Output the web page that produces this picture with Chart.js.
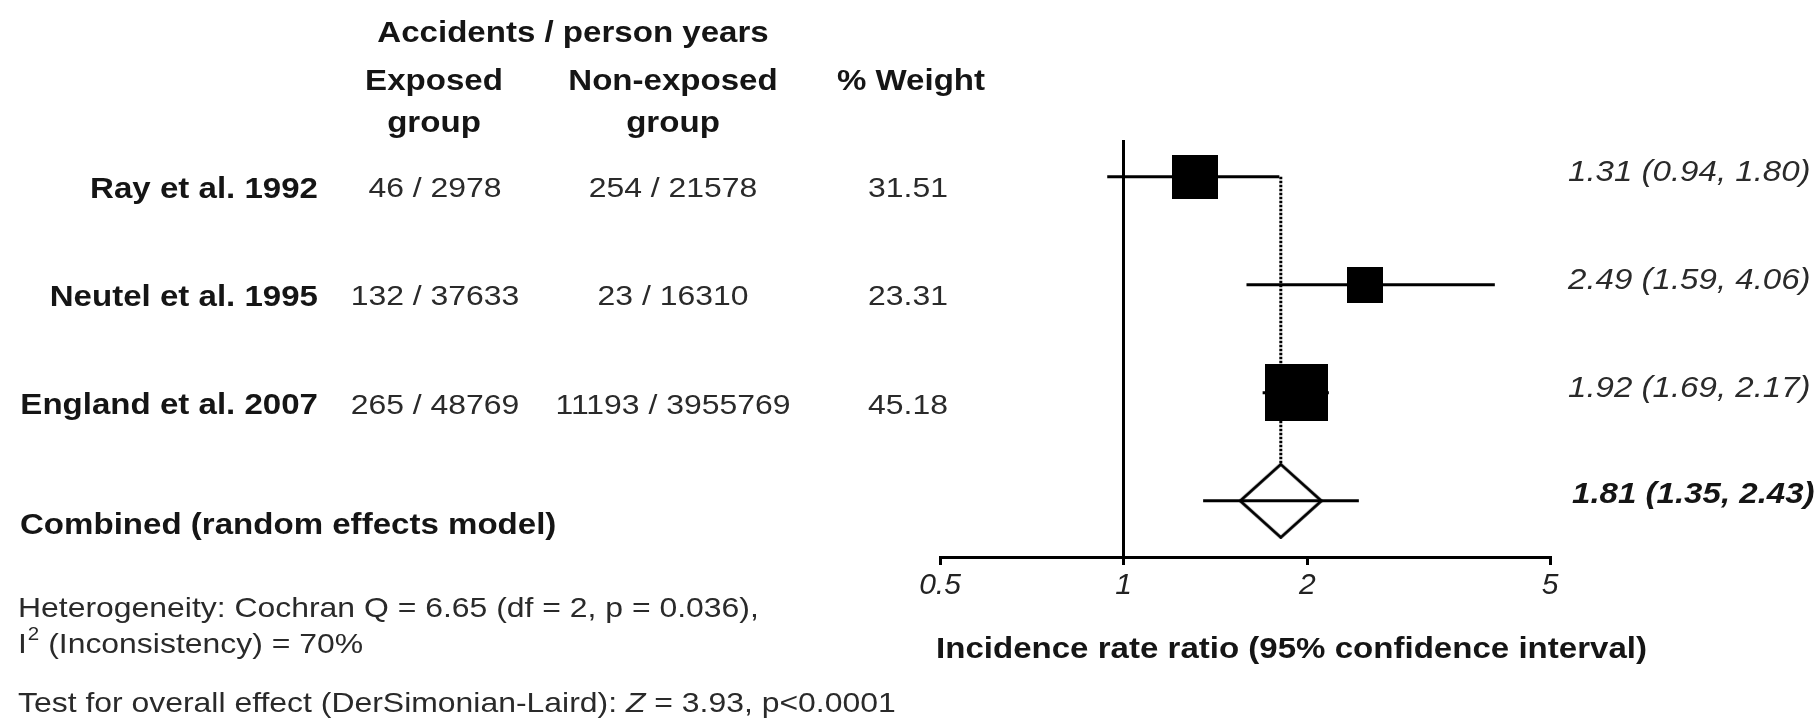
<!DOCTYPE html>
<html>
<head>
<meta charset="utf-8">
<title>Forest plot</title>
<script src="https://cdn.jsdelivr.net/npm/chart.js@4.4.1/dist/chart.umd.min.js"></script>
<style>
  html, body { margin: 0; padding: 0; background: #fff; }
  #wrap { width: 1818px; height: 722px; }
</style>
</head>
<body>
<div id="wrap"><canvas id="forest"></canvas></div>
<script>
// study rows (top to bottom)
const studies = ["Ray et al. 1992", "Neutel et al. 1995", "England et al. 2007"];
const exposed = ["46 / 2978", "132 / 37633", "265 / 48769"];
const nonExposed = ["254 / 21578", "23 / 16310", "11193 / 3955769"];
const weights = [31.51, 23.31, 45.18];
const irr = [1.31, 2.49, 1.92];
const ciLow = [0.94, 1.59, 1.69];
const ciHigh = [1.80, 4.06, 2.17];

// combined, random effects model
const pooled = 1.81;
const pooledLow = 1.35;
const pooledHigh = 2.43;

const xTicks = [0.5, 1, 2, 5];

const FONT = "'Liberation Sans', Arial, sans-serif";
// the source figure is a little stretched sideways, so text gets the same stretch
const SX = 1.14;
const pooledRow = studies.length;

function ciText(v, lo, hi) {
  return v.toFixed(2) + " (" + lo.toFixed(2) + ", " + hi.toFixed(2) + ")";
}

function put(ctx, s, x, y, font, align, color) {
  ctx.save();
  ctx.font = font;
  ctx.fillStyle = color || "#151515";
  ctx.textAlign = align || "left";
  ctx.textBaseline = "middle";
  ctx.translate(x, y);
  ctx.scale(SX, 1);
  ctx.fillText(s, 0, 0);
  ctx.restore();
}

function textWidth(ctx, s, font) {
  ctx.save();
  ctx.font = font;
  const w = ctx.measureText(s).width * SX;
  ctx.restore();
  return w;
}

// black box, size follows the study weight
function boxStyle(w) {
  const c = document.createElement("canvas");
  c.width = Math.round(7 + 1.24 * w);
  c.height = Math.round(13 + 0.97 * w);
  const g = c.getContext("2d");
  g.fillStyle = "#000";
  g.fillRect(0, 0, c.width, c.height);
  return c;
}

// open diamond for the combined estimate
function diamondStyle() {
  const c = document.createElement("canvas");
  c.width = 84;
  c.height = 76;
  const g = c.getContext("2d");
  g.beginPath();
  g.moveTo(42, 1.5);
  g.lineTo(82.5, 38);
  g.lineTo(42, 74.5);
  g.lineTo(1.5, 38);
  g.closePath();
  g.fillStyle = "#fff";
  g.fill();
  g.lineWidth = 3;
  g.strokeStyle = "#000";
  g.stroke();
  return c;
}

const datasets = [];

// study boxes on top
datasets.push({
  data: irr.map((v, i) => ({ x: v, y: i })),
  pointStyle: weights.map(boxStyle),
  pointRadius: 5,
  backgroundColor: "#000",
  borderColor: "#000",
  order: 1
});

// confidence interval whiskers
studies.forEach((s, i) => {
  datasets.push({
    data: [{ x: ciLow[i], y: i }, { x: ciHigh[i], y: i }],
    showLine: true,
    borderColor: "#000",
    borderWidth: 3,
    pointRadius: 0,
    order: 3
  });
});
datasets.push({
  data: [{ x: pooledLow, y: pooledRow }, { x: pooledHigh, y: pooledRow }],
  showLine: true,
  borderColor: "#000",
  borderWidth: 3,
  pointRadius: 0,
  order: 3
});

// diamond
datasets.push({
  data: [{ x: pooled, y: pooledRow }],
  pointStyle: diamondStyle(),
  pointRadius: 5,
  backgroundColor: "#fff",
  borderColor: "#000",
  order: 4
});

// dotted line at the combined estimate
datasets.push({
  data: [{ x: pooled, y: 0 }, { x: pooled, y: pooledRow }],
  showLine: true,
  borderColor: "#000",
  borderWidth: 3,
  borderDash: [2.5, 1.5],
  pointRadius: 0,
  order: 5
});

// the table on the left, the estimates on the right, notes underneath
const tablePlugin = {
  id: "forestTable",
  afterDraw(chart) {
    const ctx = chart.ctx;
    const yScale = chart.scales.y;
    const B = "bold 29px " + FONT;
    const R = "28px " + FONT;
    const I = "italic 29px " + FONT;
    const BI = "italic bold 29px " + FONT;
    const grey = "#2a2a2a";

    put(ctx, "Accidents / person years", 573, 34, B, "center");
    put(ctx, "Exposed", 434, 82, B, "center");
    put(ctx, "group", 434, 124, B, "center");
    put(ctx, "Non-exposed", 673, 82, B, "center");
    put(ctx, "group", 673, 124, B, "center");
    put(ctx, "% Weight", 911, 82, B, "center");

    studies.forEach((s, i) => {
      const py = yScale.getPixelForValue(i);
      put(ctx, s, 318, py + 13, B, "right");
      put(ctx, exposed[i], 435, py + 13, R, "center", grey);
      put(ctx, nonExposed[i], 673, py + 13, R, "center", grey);
      put(ctx, weights[i].toFixed(2), 908, py + 13, R, "center", grey);
      put(ctx, ciText(irr[i], ciLow[i], ciHigh[i]), 1568, py - 4, I, "left", grey);
    });

    const pp = yScale.getPixelForValue(pooledRow);
    put(ctx, "Combined (random effects model)", 20, pp + 25, B);
    put(ctx, ciText(pooled, pooledLow, pooledHigh), 1572, pp - 6, BI);

    // x axis title
    put(ctx, "Incidence rate ratio (95% confidence interval)", 936, 650, B);

    // notes
    put(ctx, "Heterogeneity: Cochran Q = 6.65 (df = 2, p = 0.036),", 18, 609, R, "left", grey);
    const small = "18px " + FONT;
    let x = 18;
    put(ctx, "I", x, 645, R, "left", grey);
    x += textWidth(ctx, "I", R) + 1;
    put(ctx, "2", x, 635, small, "left", grey);
    x += textWidth(ctx, "2", small);
    put(ctx, " (Inconsistency) = 70%", x, 645, R, "left", grey);

    x = 18;
    const t1 = "Test for overall effect (DerSimonian-Laird): ";
    put(ctx, t1, x, 704, R, "left", grey);
    x += textWidth(ctx, t1, R);
    put(ctx, "Z", x, 704, "italic 28px " + FONT, "left", grey);
    x += textWidth(ctx, "Z", "italic 28px " + FONT);
    put(ctx, " = 3.93, p<0.0001", x, 704, R, "left", grey);
  }
};

new Chart(document.getElementById("forest"), {
  type: "scatter",
  data: { datasets: datasets },
  options: {
    responsive: true,
    maintainAspectRatio: false,
    animation: false,
    events: [],
    layout: { padding: { left: 940, right: 268, top: 140, bottom: 0 } },
    plugins: {
      legend: { display: false },
      tooltip: { enabled: false }
    },
    scales: {
      x: {
        type: "logarithmic",
        min: 0.5,
        max: 5,
        afterBuildTicks: (axis) => {
          axis.ticks = xTicks.map((v) => ({ value: v }));
        },
        afterFit: (axis) => {
          axis.height = 165;
        },
        border: { display: true, color: "#000", width: 3 },
        grid: {
          color: (c) => (c.tick && c.tick.value === 1 ? "#000" : "rgba(0,0,0,0)"),
          lineWidth: 3,
          tickColor: "#000",
          tickWidth: 3,
          tickLength: 8
        },
        ticks: {
          callback: (v) => String(v),
          autoSkip: false,
          maxRotation: 0,
          padding: 3,
          color: "#222",
          font: { family: FONT, size: 30, style: "italic" }
        }
      },
      y: {
        type: "linear",
        reverse: true,
        min: -0.34,
        max: 3.52,
        display: false
      }
    }
  },
  plugins: [tablePlugin]
});
</script>
</body>
</html>
